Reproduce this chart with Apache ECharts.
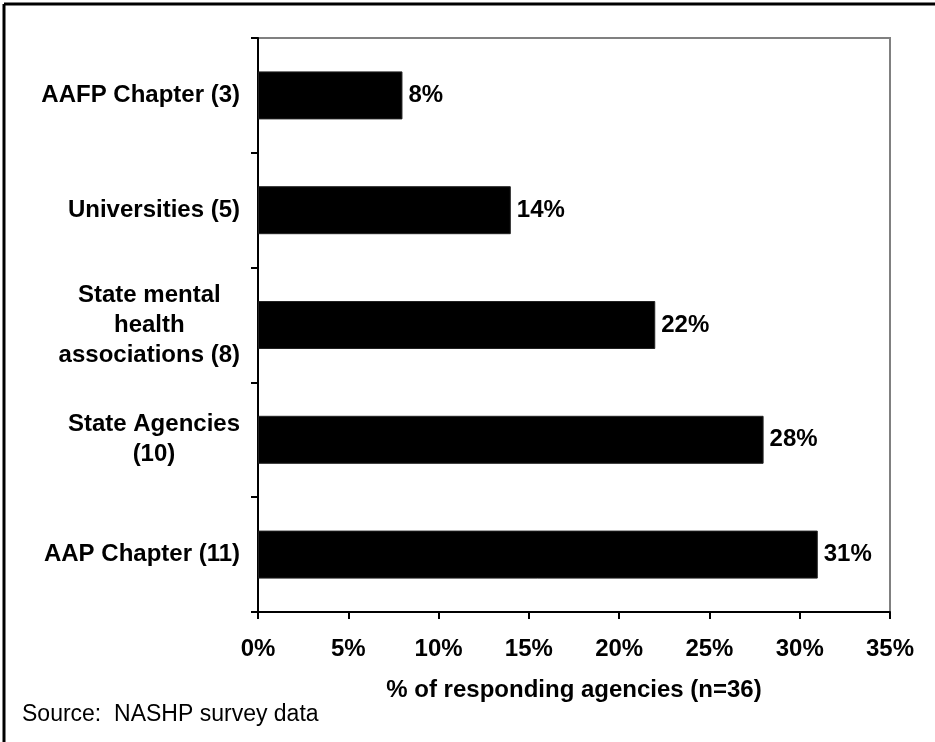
<!DOCTYPE html>
<html>
<head>
<meta charset="utf-8">
<script src="https://cdn.jsdelivr.net/npm/echarts@6/dist/echarts.min.js"></script>
<style>html,body{margin:0;padding:0;background:#fff}#c{width:935px;height:742px}</style>
</head>
<body>
<div id="c"></div>
<script>
const categories = ['AAFP Chapter (3)', 'Universities (5)', 'State mental\nhealth\nassociations (8)', 'State Agencies\n(10)', 'AAP Chapter (11)'];
const values = [8, 14, 22, 28, 31];
const xTicks = [0, 5, 10, 15, 20, 25, 30, 35];
const axisTitle = '% of responding agencies (n=36)';
const sourceText = 'Source:  NASHP survey data';

const FONT = 'Arial, "Liberation Sans", sans-serif';
const FS = 24;
const chart = echarts.init(document.getElementById('c'), null, {renderer: 'canvas'});
chart.setOption({
  animation: false,
  backgroundColor: '#fff',
  grid: {left: 258, top: 38, right: 45, bottom: 130, show: true, borderColor: '#808080', borderWidth: 2},
  xAxis: {
    type: 'value', min: xTicks[0], max: xTicks[xTicks.length - 1], interval: 5,
    splitLine: {show: false},
    axisLine: {show: true, lineStyle: {color: '#000', width: 2}},
    axisTick: {show: true, length: 7, lineStyle: {color: '#000', width: 2}},
    axisLabel: {margin: 25, color: '#000', fontFamily: FONT, fontWeight: 'bold', fontSize: FS, formatter: v => v + '%'},
    name: axisTitle, nameLocation: 'middle', nameGap: 66,
    nameTextStyle: {color: '#000', fontFamily: FONT, fontWeight: 'bold', fontSize: FS}
  },
  yAxis: {
    type: 'category', data: categories, inverse: true,
    axisLine: {show: true, lineStyle: {color: '#000', width: 2}},
    axisTick: {show: true, length: 7, lineStyle: {color: '#000', width: 2}},
    axisLabel: {
      margin: 18, color: '#000', fontFamily: FONT, fontWeight: 'bold', fontSize: FS, align: 'right', lineHeight: 30,
      formatter: v => v.split('\n').map(s => '{c|' + s + '}').join('\n'),
      rich: {c: {align: 'center', fontFamily: FONT, fontWeight: 'bold', fontSize: FS, color: '#000', lineHeight: 30}}
    }
  },
  series: [{
    type: 'bar', data: values, barWidth: 48,
    itemStyle: {color: '#000', borderColor: '#222', borderWidth: 1},
    label: {show: true, position: 'right', distance: 6, color: '#000', fontFamily: FONT, fontWeight: 'bold', fontSize: FS, formatter: p => p.value + '%'}
  }],
  graphic: [
    {type: 'line', shape: {x1: 4, y1: 4, x2: 935, y2: 4}, style: {stroke: '#000', lineWidth: 3}},
    {type: 'line', shape: {x1: 4, y1: 4, x2: 4, y2: 742}, style: {stroke: '#000', lineWidth: 3}},
    {type: 'text', left: 22, top: 703, style: {text: sourceText, fill: '#000', font: '23px ' + FONT}}
  ]
});
</script>
</body>
</html>
